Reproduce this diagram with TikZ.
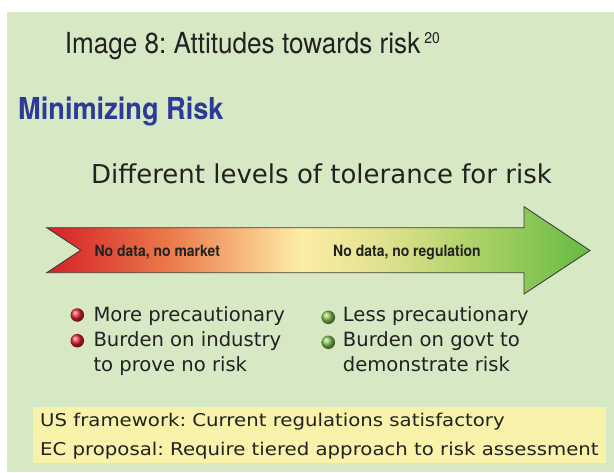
\documentclass[tikz,border=0pt]{standalone}
\usepackage{fontspec}
\setmainfont{DejaVu Sans}
\newfontfamily\condfont[FakeStretch=0.9]{TeX Gyre Heros}
\newfontfamily\widefont[FakeStretch=1.12]{DejaVu Sans}
\usetikzlibrary{positioning}
\frenchspacing

\definecolor{bggreen}{HTML}{D7E8C4}
\definecolor{boxyellow}{HTML}{F8F2AA}
\definecolor{titleblue}{HTML}{2D3A98}
\definecolor{inkgray}{HTML}{222222}
\definecolor{edgegray}{HTML}{3F3F3F}
\definecolor{dotred}{HTML}{E8222E}
\definecolor{dotgreen}{HTML}{86C452}
\definecolor{rkA}{HTML}{D52027}
\definecolor{rkB}{HTML}{EB7A4A}
\definecolor{rkC}{HTML}{F4AE75}
\definecolor{rkD}{HTML}{FDEDA5}
\definecolor{rkE}{HTML}{E1E290}
\definecolor{rkF}{HTML}{BCD672}
\definecolor{rkG}{HTML}{6CBD45}

\pgfdeclarehorizontalshading{riskshade}{100bp}{color(0bp)=(rkA); color(25bp)=(rkA);
  color(36.3bp)=(rkB); color(41.9bp)=(rkC); color(48.3bp)=(rkD); color(55.6bp)=(rkE);
  color(62.1bp)=(rkF); color(74bp)=(rkG); color(100bp)=(rkG)}

\tikzset{
  txt/.style={inner sep=0, anchor=base west, text=inkgray},
  headtxt/.style={txt, font=\condfont\fontsize{29}{29}\selectfont},
  bigtxt/.style={txt, font=\fontsize{26}{26}\selectfont},
  armtxt/.style={txt, font=\condfont\bfseries\fontsize{15.5}{15.5}\selectfont},
  itemtxt/.style={txt, font=\fontsize{19.6}{19.6}\selectfont},
  boxtxt/.style={txt, font=\widefont\fontsize{17.6}{17.6}\selectfont},
  dot/.style={circle, inner sep=0, minimum size=13.5pt}
}

\begin{document}
\begin{tikzpicture}[x=1pt, y=-1pt]
  \useasboundingbox (0,0) rectangle (614,472);
  \fill[white] (0,0) rectangle (614,472);
  \fill[bggreen] (6.7,11.7) rectangle (614,472);

  % headings
  \node[headtxt] (title) at (64.6,53.3)
    {Image 8: Attitudes towards risk\hspace{4pt}\raisebox{10pt}{\fontsize{15.5}{15.5}\selectfont 20}};
  \node[headtxt, text=titleblue, font=\condfont\bfseries\fontsize{30.2}{30.2}\selectfont] (minrisk) at (18,119) {Minimizing Risk};
  \node[bigtxt] (levels) at (91,183.3) {Different levels of tolerance for risk};

  % the arrow
  \shade[shading=riskshade, draw=edgegray, line width=0.9pt]
    (46.7,227.7) -- (524,227.7) -- (524,206.7) -- (590,250.5) -- (524,294)
    -- (524,272.7) -- (46.7,272.7) -- (80.7,250.2) -- cycle;
  \node[armtxt] (market) at (94.3,256.7) {No data, no market};
  \node[armtxt] (regul) at (333,256.7) {No data, no regulation};

  % the two sides
  \node[dot, ball color=dotred] (r1) at (77.3,315) {};
  \node[dot, ball color=dotred] (r2) at (77.3,340.7) {};
  \node[itemtxt] (more) at (93.3,321.7) {More precautionary};
  \node[itemtxt] (ind) at (93.3,346.7) {Burden on industry};
  \node[itemtxt] (ind2) at (93.3,371.7) {to prove no risk};

  \node[dot, ball color=dotgreen] (g1) at (328.3,317.3) {};
  \node[dot, ball color=dotgreen] (g2) at (328.3,342.3) {};
  \node[itemtxt] (less) at (342.7,321.7) {Less precautionary};
  \node[itemtxt] (govt) at (342.7,346.7) {Burden on govt to};
  \node[itemtxt] (govt2) at (342.7,371.7) {demonstrate risk};

  % the two positions
  \fill[boxyellow] (33.3,406.7) rectangle (606.4,462.7);
  \node[boxtxt] (us) at (40,426.7) {US framework: Current regulations satisfactory};
  \node[boxtxt] (ec) at (40,455) {EC proposal: Require tiered approach to risk assessment};
\end{tikzpicture}
\end{document}
